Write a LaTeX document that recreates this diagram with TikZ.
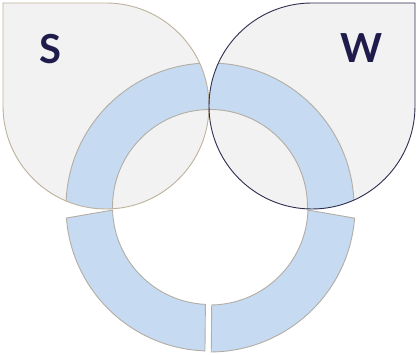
\documentclass[tikz,border=0pt]{standalone}
\usepackage{fontspec}
\setmainfont{Lato}
\definecolor{dropfill}{HTML}{F2F2F3}
\definecolor{sline}{HTML}{BDB29C}
\definecolor{wline}{HTML}{2E2E4E}
\definecolor{ringfill}{HTML}{C6DBF1}
\definecolor{ringline}{HTML}{B3ADA4}
\definecolor{ink}{HTML}{1F1C4C}
\begin{document}
\begin{tikzpicture}[x=1pt, y=1pt,
    drop/.style={fill=dropfill},
    piece/.style={fill=ringfill, draw=ringline, line width=0.9pt},
    letter/.style={text=ink, inner sep=0pt, font=\fontsize{40}{40}\selectfont\bfseries}
]
\useasboundingbox (0,0) rectangle (418,355);
% ---------------- teardrops ----------------
\def\sdrop{(3,352) -- (106,352) arc[start angle=90, end angle=-180, radius=103] -- cycle}
\def\wdrop{(415,352) -- (312,352) arc[start angle=90, end angle=360, radius=103] -- cycle}
\fill[drop] \sdrop;
\fill[drop] \wdrop;
% ---------------- ring inside the teardrops ----------------
\begin{scope}
  \clip \sdrop;
  \draw[piece, even odd rule] (210,148) circle[radius=144] (210,148) circle[radius=97.5];
\end{scope}
\begin{scope}
  \clip \wdrop;
  \draw[piece, even odd rule] (210,148) circle[radius=144] (210,148) circle[radius=97.5];
\end{scope}
% ---------------- lower ring pieces ----------------
\begin{scope}[shift={(210,148)}]
  \draw[piece] (184.4:144) arc[start angle=184.4, end angle=268, radius=144]
    -- (267.3:97.5) arc[start angle=267.3, end angle=181.8, radius=97.5] -- cycle;
  \draw[piece] (270.5:145) arc[start angle=270.5, end angle=355.6, radius=145]
    -- (358.2:98) arc[start angle=358.2, end angle=271, radius=98] -- cycle;
\end{scope}
% ---------------- outlines ----------------
\draw[sline, line width=0.9pt] \sdrop;
\draw[wline, line width=0.9pt] \wdrop;
\node[letter] (slabel) at (50,306) {S};
\node[letter] (wlabel) at (362,307) {W};
\end{tikzpicture}
\end{document}
